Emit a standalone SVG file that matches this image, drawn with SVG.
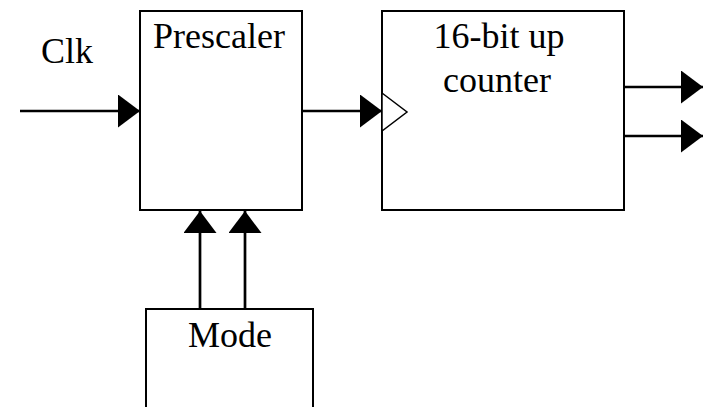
<svg xmlns="http://www.w3.org/2000/svg" width="709" height="407" viewBox="0 0 709 407">
<style>
.box{fill:#fff;stroke:#000;stroke-width:2}
.lbl{font-family:"Liberation Serif","Times New Roman",serif;font-size:36px;fill:#000}
.wire{stroke:#000;stroke-width:2.7;fill:none;marker-end:url(#ah)}
</style>
<defs>
<marker id="ah" markerUnits="userSpaceOnUse" markerWidth="23" markerHeight="34" refX="22" refY="16.5" orient="auto" viewBox="0 0 23 34">
<path d="M0,0 L22,16.5 L0,33 Z" fill="#000"/>
</marker>
</defs>
<g id="prescaler">
<rect class="box" x="140" y="11" width="162" height="199"/>
<text class="lbl" x="153" y="48">Prescaler</text>
</g>
<g id="counter">
<rect class="box" x="382" y="11" width="242" height="199"/>
<polygon points="382,93 407,112 382,131" fill="#fff" stroke="#000" stroke-width="1.5"/>
<text class="lbl" x="499" y="48" text-anchor="middle">16-bit up</text>
<text class="lbl" x="497" y="92" text-anchor="middle">counter</text>
</g>
<g id="mode">
<rect class="box" x="146" y="309" width="167" height="110"/>
<text class="lbl" x="230" y="347" text-anchor="middle">Mode</text>
</g>
<g id="clk">
<text class="lbl" x="41" y="63">Clk</text>
</g>
<g id="connectors">
<line class="wire" x1="20" y1="111" x2="140" y2="111"/>
<line class="wire" x1="302" y1="111" x2="382" y2="111"/>
<line class="wire" x1="624" y1="87" x2="703" y2="87"/>
<line class="wire" x1="624" y1="136" x2="703" y2="136"/>
<line class="wire" x1="200" y1="309" x2="200" y2="211"/>
<line class="wire" x1="245" y1="309" x2="245" y2="211"/>
</g>
</svg>
